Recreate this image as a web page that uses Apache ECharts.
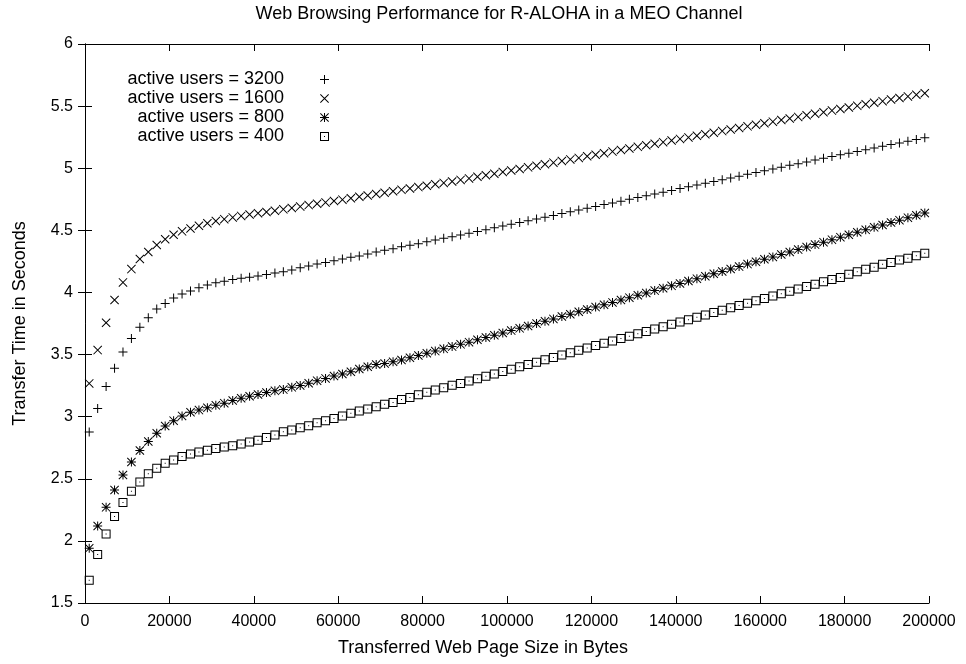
<!DOCTYPE html>
<html>
<head>
<meta charset="utf-8">
<script src="https://cdn.jsdelivr.net/npm/echarts@6/dist/echarts.min.js"></script>
<style>
html,body{margin:0;padding:0;background:#fff;}
#chart{width:966px;height:664px;}
</style>
</head>
<body>
<div id="chart"></div>
<script>
const chartTitle = 'Web Browsing Performance for R-ALOHA in a MEO Channel';
const xAxisTitle = 'Transferred Web Page Size in Bytes';
const yAxisTitle = 'Transfer Time in Seconds';
const seriesNames = ['active users = 3200', 'active users = 1600', 'active users = 800', 'active users = 400'];

const pageSize = [
  1000, 3000, 5000, 7000, 9000, 11000, 13000, 15000, 17000, 19000,
  21000, 23000, 25000, 27000, 29000, 31000, 33000, 35000, 37000, 39000,
  41000, 43000, 45000, 47000, 49000, 51000, 53000, 55000, 57000, 59000,
  61000, 63000, 65000, 67000, 69000, 71000, 73000, 75000, 77000, 79000,
  81000, 83000, 85000, 87000, 89000, 91000, 93000, 95000, 97000, 99000,
  101000, 103000, 105000, 107000, 109000, 111000, 113000, 115000, 117000, 119000,
  121000, 123000, 125000, 127000, 129000, 131000, 133000, 135000, 137000, 139000,
  141000, 143000, 145000, 147000, 149000, 151000, 153000, 155000, 157000, 159000,
  161000, 163000, 165000, 167000, 169000, 171000, 173000, 175000, 177000, 179000,
  181000, 183000, 185000, 187000, 189000, 191000, 193000, 195000, 197000, 199000
];

const users3200 = [
  2.876, 3.065, 3.243, 3.390, 3.520, 3.630, 3.720, 3.797, 3.866, 3.912,
  3.956, 3.987, 4.012, 4.038, 4.059, 4.078, 4.091, 4.104, 4.114, 4.122,
  4.133, 4.145, 4.157, 4.167, 4.180, 4.199, 4.213, 4.229, 4.242, 4.255,
  4.269, 4.283, 4.293, 4.309, 4.325, 4.339, 4.352, 4.368, 4.379, 4.392,
  4.408, 4.422, 4.436, 4.448, 4.462, 4.477, 4.491, 4.505, 4.520, 4.534,
  4.549, 4.563, 4.577, 4.592, 4.606, 4.620, 4.635, 4.649, 4.663, 4.678,
  4.692, 4.707, 4.721, 4.735, 4.750, 4.764, 4.778, 4.793, 4.807, 4.821,
  4.836, 4.850, 4.865, 4.879, 4.893, 4.908, 4.922, 4.936, 4.951, 4.965,
  4.979, 4.994, 5.008, 5.023, 5.037, 5.051, 5.066, 5.080, 5.094, 5.108,
  5.121, 5.135, 5.149, 5.163, 5.177, 5.190, 5.204, 5.218, 5.232, 5.246
];

const users1600 = [
  3.268, 3.536, 3.756, 3.939, 4.081, 4.188, 4.269, 4.325, 4.382, 4.428,
  4.465, 4.492, 4.515, 4.537, 4.557, 4.575, 4.590, 4.604, 4.616, 4.627,
  4.637, 4.647, 4.658, 4.669, 4.680, 4.691, 4.703, 4.714, 4.725, 4.736,
  4.747, 4.758, 4.770, 4.781, 4.792, 4.803, 4.815, 4.826, 4.837, 4.848,
  4.859, 4.871, 4.882, 4.893, 4.906, 4.918, 4.931, 4.944, 4.956, 4.969,
  4.982, 4.994, 5.007, 5.020, 5.032, 5.045, 5.058, 5.071, 5.083, 5.096,
  5.109, 5.121, 5.134, 5.147, 5.159, 5.172, 5.185, 5.197, 5.210, 5.223,
  5.236, 5.248, 5.261, 5.274, 5.286, 5.299, 5.312, 5.324, 5.337, 5.350,
  5.362, 5.375, 5.388, 5.400, 5.413, 5.426, 5.439, 5.451, 5.464, 5.477,
  5.489, 5.502, 5.515, 5.527, 5.540, 5.553, 5.565, 5.578, 5.591, 5.603
];

const users800 = [
  1.940, 2.120, 2.270, 2.410, 2.530, 2.635, 2.728, 2.800, 2.866, 2.925,
  2.968, 3.006, 3.036, 3.053, 3.071, 3.091, 3.109, 3.130, 3.148, 3.164,
  3.179, 3.194, 3.208, 3.218, 3.236, 3.251, 3.269, 3.290, 3.308, 3.327,
  3.343, 3.361, 3.384, 3.402, 3.420, 3.429, 3.442, 3.456, 3.474, 3.492,
  3.510, 3.528, 3.546, 3.564, 3.582, 3.600, 3.619, 3.637, 3.656, 3.674,
  3.693, 3.711, 3.730, 3.749, 3.768, 3.787, 3.806, 3.825, 3.844, 3.863,
  3.882, 3.901, 3.920, 3.939, 3.958, 3.977, 3.996, 4.015, 4.034, 4.053,
  4.072, 4.092, 4.111, 4.130, 4.150, 4.169, 4.189, 4.208, 4.228, 4.247,
  4.267, 4.286, 4.306, 4.325, 4.345, 4.365, 4.385, 4.405, 4.425, 4.445,
  4.465, 4.484, 4.504, 4.524, 4.543, 4.563, 4.582, 4.602, 4.621, 4.640
];

const users400 = [
  1.684, 1.890, 2.055, 2.197, 2.310, 2.400, 2.475, 2.540, 2.585, 2.625,
  2.652, 2.680, 2.700, 2.715, 2.730, 2.744, 2.755, 2.765, 2.780, 2.797,
  2.810, 2.832, 2.852, 2.878, 2.892, 2.911, 2.927, 2.951, 2.967, 2.986,
  3.005, 3.027, 3.045, 3.061, 3.080, 3.099, 3.115, 3.139, 3.155, 3.176,
  3.196, 3.214, 3.233, 3.252, 3.268, 3.287, 3.306, 3.325, 3.344, 3.363,
  3.382, 3.401, 3.420, 3.439, 3.458, 3.477, 3.496, 3.515, 3.534, 3.553,
  3.572, 3.591, 3.610, 3.629, 3.648, 3.667, 3.686, 3.705, 3.724, 3.743,
  3.762, 3.781, 3.800, 3.819, 3.838, 3.857, 3.876, 3.895, 3.914, 3.933,
  3.952, 3.971, 3.990, 4.009, 4.028, 4.047, 4.066, 4.086, 4.105, 4.121,
  4.146, 4.167, 4.186, 4.202, 4.226, 4.242, 4.261, 4.275, 4.296, 4.315
];

const xTicks = [0, 20000, 40000, 60000, 80000, 100000, 120000, 140000, 160000, 180000, 200000];
const yTicks = [1.5, 2, 2.5, 3, 3.5, 4, 4.5, 5, 5.5, 6];

// marker shapes (gnuplot-like point types)
const SYM_PLUS = 'path://M0,4 L9,4 L9,5 L0,5 Z M4,0 L5,0 L5,9 L4,9 Z';
const SYM_CROSS = 'path://M0,0.7 L0.7,0 L9,8.3 L8.3,9 Z M8.3,0 L9,0.7 L0.7,9 L0,8.3 Z';
const SYM_STAR = 'path://M0,4 L9,4 L9,5 L0,5 Z M4,0 L5,0 L5,9 L4,9 Z M0,0.7 L0.7,0 L9,8.3 L8.3,9 Z M8.3,0 L9,0.7 L0.7,9 L0,8.3 Z';
const SYM_BOXDOT = 'path://M0,0 L9,0 L9,9 L0,9 Z M1,1 L1,8 L8,8 L8,1 Z M4,4 L5,4 L5,5 L4,5 Z';

const FONT = '"Liberation Sans", Arial, Helvetica, sans-serif';
const FS_TICK = 16;
const FS_TEXT = 18;

function pairs(ys) { return pageSize.map((x, i) => [x, ys[i]]); }

const chart = echarts.init(document.getElementById('chart'), null, {renderer: 'canvas'});

const axisCommon = {
  axisLine: {show: true, lineStyle: {color: '#000', width: 1}},
  axisTick: {show: true, inside: true, length: 7, lineStyle: {color: '#000', width: 1}},
  splitLine: {show: false}
};

chart.setOption({
  animation: false,
  backgroundColor: '#fff',
  textStyle: {fontFamily: FONT, color: '#000'},
  title: {
    text: chartTitle,
    left: 499, top: 5, textAlign: 'center', padding: 0,
    textStyle: {fontFamily: FONT, fontSize: FS_TEXT, fontWeight: 'normal', color: '#000'}
  },
  legend: {
    orient: 'vertical',
    right: 637, top: 70,
    align: 'right',
    padding: 0,
    itemGap: 0,
    itemWidth: 9, itemHeight: 9,
    data: seriesNames,
    textStyle: {fontFamily: FONT, fontSize: FS_TEXT, color: '#000', lineHeight: 19, padding: [0, 31, 0, 0]}
  },
  grid: {left: 85, right: 37, top: 44, bottom: 61, containLabel: false},
  xAxis: [
    Object.assign({
      type: 'value', position: 'bottom', min: 0, max: 200000, interval: 20000,
      name: xAxisTitle, nameLocation: 'middle', nameGap: 36,
      nameTextStyle: {fontFamily: FONT, fontSize: FS_TEXT, color: '#000', padding: [0, 48, 0, 0]},
      axisLabel: {show: true, margin: 11, fontFamily: FONT, fontSize: FS_TICK, color: '#000',
        formatter: v => (xTicks.indexOf(v) >= 0 ? String(v) : '')}
    }, axisCommon),
    Object.assign({
      type: 'value', position: 'top', min: 0, max: 200000, interval: 20000,
      axisLabel: {show: false}
    }, axisCommon)
  ],
  yAxis: [
    Object.assign({
      type: 'value', position: 'left', min: 1.5, max: 6, interval: 0.5,
      name: yAxisTitle, nameLocation: 'middle', nameGap: 56, nameRotate: 90,
      nameTextStyle: {fontFamily: FONT, fontSize: FS_TEXT, color: '#000'},
      axisLabel: {show: true, margin: 12, fontFamily: FONT, fontSize: FS_TICK, color: '#000',
        formatter: v => (yTicks.indexOf(v) >= 0 ? String(v) : '')}
    }, axisCommon),
    Object.assign({
      type: 'value', position: 'right', min: 1.5, max: 6, interval: 0.5,
      axisLabel: {show: false}
    }, axisCommon)
  ],
  series: [
    {name: seriesNames[0], type: 'scatter', data: pairs(users3200), symbol: SYM_PLUS, symbolSize: 9,
      itemStyle: {color: '#000', opacity: 1}},
    {name: seriesNames[1], type: 'scatter', data: pairs(users1600), symbol: SYM_CROSS, symbolSize: 9,
      itemStyle: {color: '#000', opacity: 1}},
    {name: seriesNames[2], type: 'scatter', data: pairs(users800), symbol: SYM_STAR, symbolSize: 9,
      itemStyle: {color: '#000', opacity: 1}},
    {name: seriesNames[3], type: 'scatter', data: pairs(users400), symbol: SYM_BOXDOT, symbolSize: 9,
      itemStyle: {color: '#000', opacity: 1}}
  ]
});
</script>
</body>
</html>
